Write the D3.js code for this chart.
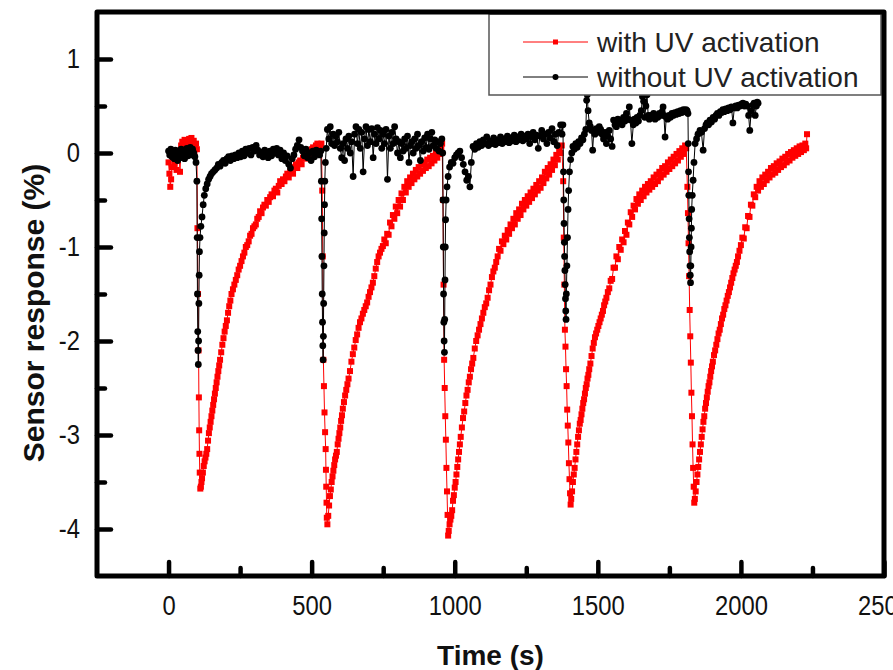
<!DOCTYPE html>
<html lang="en">
  <head>
    <meta charset="utf-8" />
    <title>Sensor response with and without UV activation</title>
    <script src="https://d3js.org/d3.v7.min.js"></script>
    <style>
      body {
        margin: 0;
        background: #fff;
      }
      text {
        font-family: "Liberation Sans", Arial, sans-serif;
      }
      .tick-label {
        font-size: 28px;
        fill: #111;
      }
      .axis-title {
        font-weight: bold;
        fill: #111;
      }
      .legend-label {
        font-size: 28px;
        fill: #222;
      }
    </style>
  </head>
  <body>
    <svg width="893" height="670"></svg>
    <script type="text/javascript">
      // tick values
      const xTicks = [0, 500, 1000, 1500, 2000, 2500];
      const xMinorTicks = [250, 750, 1250, 1750, 2250];
      const yTicks = [-4, -3, -2, -1, 0, 1];
      const yMinorTicks = [-3.5, -2.5, -1.5, -0.5, 0.5];
      const seriesNames = ["with UV activation", "without UV activation"];

      // [time (s), response (%)]
      const withUV = [
        [0,-0.1],[3,-0.22],[6,-0.36],[9,-0.28],[12,-0.15],[16,-0.05],[20,-0.12],[24,-0.02],[28,-0.18],[32,-0.08],[36,0.02],[40,-0.2],[44,0.08],[48,0.12],[52,0.05],[56,0.14],[60,0.1],[64,0.03],[68,0.12],[72,0.15],[76,0.08],[80,0.16],[84,0.1],[88,0.13],[92,0.06],[96,0.1],[99,0.04],
        [101,-0.8],[103,-1.5],[105,-2.1],[106,-2.6],[107,-2.95],[108,-3.2],[109,-3.4],[111,-3.57],[113,-3.55],
        [115,-3.5],[117,-3.46],[120,-3.4],[123,-3.33],[126,-3.28],[129,-3.24],[132,-3.2],[135,-3.15],[138,-3.06],[141,-2.98],[144,-2.92],[147,-2.86],[150,-2.8],[153,-2.74],[156,-2.68],[159,-2.62],[162,-2.56],[165,-2.5],[168,-2.44],[171,-2.38],[174,-2.32],[177,-2.26],[180,-2.2],[184,-2.12],[188,-2.04],[192,-1.97],[196,-1.9],[200,-1.84],[204,-1.78],[208,-1.7],[212,-1.63],[216,-1.57],[220,-1.5],[225,-1.45],[230,-1.4],[235,-1.35],[240,-1.3],[245,-1.24],[250,-1.2],[255,-1.15],[260,-1.1],[265,-1.06],[270,-1.0],[275,-0.98],[280,-0.94],[285,-0.88],[290,-0.86],[295,-0.8],[300,-0.78],[305,-0.76],[310,-0.7],[315,-0.68],[320,-0.62],[325,-0.64],[330,-0.58],[335,-0.55],[340,-0.56],[345,-0.5],[350,-0.52],[355,-0.47],[360,-0.44],[365,-0.46],[370,-0.4],[375,-0.38],[380,-0.42],[385,-0.35],[390,-0.3],[395,-0.33],[400,-0.28],[405,-0.3],[410,-0.25],[415,-0.22],[420,-0.26],[425,-0.2],[430,-0.18],[435,-0.22],[440,-0.15],[445,-0.12],[450,-0.16],[455,-0.1],[460,-0.08],[465,-0.12],[470,-0.05],[475,-0.02],[480,-0.06],[485,0.0],[490,0.02],[495,-0.03],[500,0.04],[505,0.06],[510,0.02],[515,0.08],[520,0.1],[525,0.05],[530,0.08],[534,0.1],
        [537,-0.4],[539,-1.1],[541,-2.2],[543,-2.48],[545,-2.76],[547,-2.97],[549,-3.15],[550,-3.37],[551,-3.55],[552,-3.72],[553,-3.88],[555,-3.95],[558,-3.86],[561,-3.75],
        [564,-3.65],[567,-3.58],[570,-3.5],[573,-3.44],[576,-3.38],[579,-3.32],[582,-3.26],[585,-3.22],[588,-3.18],[591,-3.1],[594,-3.04],[597,-2.98],[600,-2.92],[603,-2.85],[606,-2.79],[609,-2.72],[613,-2.65],[617,-2.58],[621,-2.52],[625,-2.46],[629,-2.4],[634,-2.32],[639,-2.22],[644,-2.14],[649,-2.07],[654,-1.99],[659,-1.93],[664,-1.86],[669,-1.8],[674,-1.76],[679,-1.71],[684,-1.67],[689,-1.63],[694,-1.59],[699,-1.53],[704,-1.48],[709,-1.43],[714,-1.38],[719,-1.31],[724,-1.23],[729,-1.16],[734,-1.1],[739,-1.06],[744,-1.02],
        [749,-0.99],[754,-0.92],[759,-0.96],[764,-0.86],[769,-0.87],[774,-0.74],[779,-0.78],[784,-0.66],[789,-0.7],[794,-0.57],[799,-0.64],[804,-0.5],[809,-0.57],[814,-0.43],[819,-0.5],[824,-0.36],[829,-0.42],[834,-0.3],[839,-0.36],[844,-0.26],[849,-0.32],[854,-0.22],[859,-0.28],[864,-0.18],[869,-0.25],[874,-0.15],[879,-0.22],[884,-0.12],[889,-0.19],[894,-0.1],[899,-0.16],[904,-0.07],[909,-0.14],[914,-0.05],[919,-0.11],[924,-0.03],[929,-0.08],[934,0.0],[939,-0.05],[944,0.03],[949,-0.01],[953,0.06],[956,0.1],
        [959,-0.5],[961,-1.4],[963,-2.2],[965,-2.5],[967,-2.8],[969,-3.05],[971,-3.35],[973,-3.6],[975,-3.85],[977,-4.07],[979,-4.02],[982,-3.95],
        [985,-3.9],[988,-3.86],[991,-3.8],[994,-3.7],[997,-3.64],[1000,-3.56],[1003,-3.5],[1006,-3.42],[1009,-3.34],[1012,-3.26],[1015,-3.18],[1018,-3.1],[1021,-3.02],[1025,-2.92],[1029,-2.82],[1033,-2.75],[1037,-2.66],[1041,-2.58],[1045,-2.52],[1049,-2.44],[1053,-2.38],[1057,-2.3],[1061,-2.24],[1065,-2.18],[1070,-2.08],[1075,-2.0],[1080,-1.94],[1085,-1.88],[1090,-1.82],[1095,-1.76],[1100,-1.7],[1105,-1.64],[1110,-1.6],[1115,-1.54],[1120,-1.46],[1125,-1.4],[1130,-1.32],[1135,-1.26],[1140,-1.22],[1145,-1.16],
        [1150,-1.1],[1155,-1.02],[1160,-1.04],[1165,-0.94],[1170,-0.97],[1175,-0.88],[1180,-0.92],[1185,-0.82],[1190,-0.86],[1195,-0.76],[1200,-0.8],[1205,-0.7],[1210,-0.76],[1215,-0.64],[1220,-0.7],[1225,-0.6],[1230,-0.66],[1235,-0.54],[1240,-0.6],[1245,-0.5],[1250,-0.56],[1255,-0.46],[1260,-0.52],[1265,-0.42],[1270,-0.48],[1275,-0.38],[1280,-0.44],[1285,-0.34],[1290,-0.4],[1295,-0.3],[1300,-0.37],[1305,-0.26],[1310,-0.32],[1315,-0.2],[1320,-0.27],[1325,-0.16],[1330,-0.23],[1335,-0.12],[1340,-0.18],[1345,-0.07],[1350,-0.13],[1355,-0.02],[1360,-0.07],[1365,0.04],[1370,0.0],[1374,0.08],
        [1379,-0.3],[1381,-0.9],[1383,-1.4],[1385,-1.88],[1387,-2.06],[1389,-2.3],[1391,-2.48],[1393,-2.73],[1395,-2.9],[1397,-3.08],[1399,-3.3],[1401,-3.47],[1403,-3.62],[1405,-3.74],[1407,-3.68],
        [1410,-3.6],[1413,-3.5],[1416,-3.42],[1419,-3.35],[1422,-3.26],[1425,-3.18],[1428,-3.1],[1431,-3.02],[1434,-2.95],[1437,-2.88],[1440,-2.84],[1443,-2.78],[1446,-2.72],[1449,-2.66],[1452,-2.62],[1455,-2.56],[1458,-2.5],[1461,-2.46],[1464,-2.4],[1467,-2.36],[1470,-2.3],[1474,-2.24],[1478,-2.16],[1482,-2.08],[1486,-2.02],[1490,-1.96],[1494,-1.92],[1498,-1.88],[1502,-1.84],[1506,-1.8],[1510,-1.76],[1514,-1.72],[1518,-1.68],[1522,-1.62],[1526,-1.58],[1530,-1.54],[1535,-1.48],
        [1540,-1.44],[1545,-1.36],[1550,-1.34],[1555,-1.22],[1560,-1.22],[1565,-1.1],[1570,-1.13],[1575,-1.0],[1580,-1.03],[1585,-0.92],[1590,-0.95],[1595,-0.83],[1600,-0.87],[1605,-0.74],[1610,-0.76],[1615,-0.63],[1620,-0.68],[1625,-0.56],[1630,-0.6],[1635,-0.49],[1640,-0.54],[1645,-0.44],[1650,-0.5],[1655,-0.4],[1660,-0.46],[1665,-0.36],[1670,-0.42],[1675,-0.33],[1680,-0.39],[1685,-0.3],[1690,-0.36],[1695,-0.26],[1700,-0.33],[1705,-0.23],[1710,-0.3],[1715,-0.2],[1720,-0.26],[1725,-0.16],[1730,-0.23],[1735,-0.14],[1740,-0.2],[1745,-0.1],[1750,-0.17],[1755,-0.07],[1760,-0.14],[1765,-0.04],[1770,-0.11],[1775,-0.01],[1780,-0.08],[1785,0.02],[1790,-0.04],[1795,0.05],[1800,-0.01],[1805,0.08],[1809,0.05],
        [1813,-0.36],[1815,-0.64],[1817,-0.96],[1819,-1.31],[1821,-1.67],[1823,-1.95],[1825,-2.23],[1827,-2.55],[1829,-2.8],[1831,-3.1],[1833,-3.35],[1835,-3.55],[1837,-3.72],[1839,-3.68],
        [1842,-3.6],[1845,-3.5],[1848,-3.42],[1851,-3.34],[1854,-3.26],[1857,-3.18],[1860,-3.1],[1863,-3.02],[1866,-2.94],[1869,-2.86],[1872,-2.8],[1875,-2.72],[1878,-2.66],[1881,-2.6],[1884,-2.54],[1887,-2.48],[1890,-2.44],[1893,-2.38],[1896,-2.32],[1899,-2.27],[1902,-2.22],[1906,-2.15],[1910,-2.1],[1914,-2.04],[1918,-1.98],[1922,-1.92],[1926,-1.88],[1930,-1.82],[1934,-1.76],[1938,-1.72],[1942,-1.66],[1946,-1.62],[1950,-1.57],[1954,-1.52],[1958,-1.48],[1962,-1.43],[1966,-1.38],[1970,-1.33],[1974,-1.28],[1978,-1.24],[1982,-1.2],[1986,-1.16],[1990,-1.1],[1995,-1.04],
        [2000,-0.98],[2005,-0.9],[2010,-0.91],[2015,-0.79],[2020,-0.8],[2025,-0.67],[2030,-0.68],[2035,-0.55],[2040,-0.56],[2045,-0.44],[2050,-0.47],[2055,-0.36],[2060,-0.4],[2065,-0.3],[2070,-0.36],[2075,-0.26],[2080,-0.33],[2085,-0.23],[2090,-0.29],[2095,-0.2],[2100,-0.26],[2105,-0.16],[2110,-0.23],[2115,-0.14],[2120,-0.21],[2125,-0.11],[2130,-0.18],[2135,-0.09],[2140,-0.15],[2145,-0.06],[2150,-0.13],[2155,-0.04],[2160,-0.1],[2165,-0.01],[2170,-0.08],[2175,0.01],[2180,-0.05],[2185,0.03],[2190,-0.03],[2195,0.05],[2200,-0.01],[2205,0.07],[2210,0.01],[2215,0.08],[2220,0.03],[2225,0.1],[2228,0.05],[2231,0.2]
      ];

      const withoutUV = [
        [0,0.02],[4,-0.02],[8,0.04],[12,-0.04],[16,0.0],[20,-0.06],[24,0.03],[28,-0.03],[32,-0.08],[36,0.02],[40,-0.05],[44,0.04],[48,-0.02],[52,0.03],[56,-0.06],[60,0.0],[64,0.05],[68,-0.03],[72,0.02],[76,0.06],[80,-0.02],[84,0.04],[88,0.0],[92,-0.04],[96,-0.1],[99,-0.3],
        [100,-0.9],[101,-1.5],[102,-1.9],[103,-2.1],[104,-2.25],[105,-2.0],[106,-1.6],[107,-1.3],[108,-1.05],[110,-0.9],[113,-0.78],[117,-0.68],[121,-0.55],[125,-0.45],[130,-0.38],[135,-0.33],[140,-0.28],[145,-0.25],[150,-0.22],[156,-0.2],[162,-0.18],[168,-0.16],[174,-0.12],[180,-0.14],[186,-0.1],[192,-0.08],[198,-0.11],[204,-0.06],[210,-0.04],[216,-0.08],[222,-0.03],[228,-0.06],[234,-0.02],[240,-0.05],[246,0.0],[252,-0.04],[258,0.02],[264,-0.03],[270,0.04],[276,0.0],[282,0.05],[288,-0.02],[294,0.06],[300,0.02],[306,0.08],[312,0.03],[318,-0.02],[324,0.01],[330,-0.04],[336,0.03],[342,0.0],[348,-0.05],[354,0.02],[360,-0.03],[366,0.04],[372,0.0],[378,0.05],[384,-0.02],[390,0.03],[396,-0.06],[402,0.0],[408,-0.08],[414,-0.03],[420,-0.12],[426,-0.16],[432,-0.06],[438,-0.02],[444,0.04],[450,0.08],[456,0.14],[462,0.06],[468,0.02],[474,-0.03],[480,0.04],[486,-0.05],[492,0.0],[498,-0.08],[504,0.02],[510,-0.04],[516,0.03],[522,0.0],[528,-0.02],[532,0.02],
        [534,-0.3],[535,-0.7],[536,-1.1],[537,-1.5],[538,-1.8],[539,-2.05],[540,-2.2],[541,-1.95],[542,-1.6],[543,-1.2],[544,-0.85],[545,-0.55],[546,-0.3],[548,-0.1],[551,0.05],
        [555,0.25],[560,0.15],[565,0.28],[570,0.1],[575,0.2],[580,0.08],[585,0.18],[590,0.12],[595,0.22],[600,0.05],[605,-0.05],[610,0.1],[615,-0.08],[620,0.15],[625,0.05],[630,0.18],[635,0.0],[640,0.12],[645,-0.25],[650,0.2],[655,0.28],[660,0.1],[665,0.25],[670,0.05],[675,0.22],[680,-0.2],[685,0.15],[690,0.28],[695,0.08],[700,0.25],[705,0.12],[710,0.26],[715,-0.05],[720,0.2],[725,0.1],[730,0.27],[735,0.15],[740,0.24],[745,0.05],[750,0.2],[755,0.1],[760,0.25],[765,-0.28],[770,0.18],[775,0.05],[780,0.22],[785,0.1],[790,0.28],[795,0.15],[800,0.0],[805,0.12],[810,-0.05],[815,0.1],[820,0.02],[825,0.15],[830,0.05],[835,0.18],[840,-0.1],[845,0.08],[850,0.12],[855,0.0],[860,0.15],[865,0.05],[870,0.2],[875,0.08],[880,-0.08],[885,0.12],[890,0.02],[895,0.16],[900,0.06],[905,0.2],[910,0.04],[915,0.15],[920,0.22],[925,0.08],[930,0.14],[935,0.05],[940,0.12],[945,0.02],[950,0.1],[955,0.15],
        [958,0.0],[959,-0.5],[960,-1.0],[961,-1.5],[962,-1.8],[963,-2.0],[964,-2.12],[965,-1.77],[966,-1.35],[967,-1.0],[968,-0.71],[970,-0.5],[973,-0.36],[977,-0.25],[982,-0.15],[988,-0.1],[994,-0.11],[1000,-0.05],[1006,-0.02],[1012,0.0],[1018,0.02],[1024,-0.05],[1030,-0.12],[1036,-0.2],[1042,-0.29],[1048,-0.25],[1053,-0.36],[1058,-0.1],[1064,0.07],[1070,0.04],[1076,0.1],[1082,0.06],[1088,0.12],[1094,0.08],[1100,0.14],[1106,0.1],[1112,0.17],[1118,0.08],[1124,0.13],[1130,0.1],[1136,0.16],[1142,0.09],[1148,0.14],[1154,0.11],[1160,0.17],[1166,0.1],[1172,0.15],[1178,0.12],[1184,0.18],[1190,0.11],[1196,0.16],[1202,0.13],[1208,0.19],[1214,0.12],[1220,0.17],[1226,0.14],[1232,0.2],[1238,0.13],[1244,0.18],[1250,0.15],[1256,0.2],[1262,0.1],[1268,0.17],[1274,0.22],[1280,0.14],[1286,0.19],[1292,0.05],[1298,0.18],[1304,0.24],[1310,0.15],[1316,0.2],[1322,0.1],[1328,0.22],[1334,0.16],[1340,0.26],[1346,0.12],[1352,0.2],[1358,0.08],[1364,0.22],[1370,0.3],[1375,0.2],
        [1378,0.3],[1380,-0.2],[1381,-0.5],[1382,-0.75],[1383,-0.95],[1384,-1.1],[1385,-1.25],[1386,-1.4],[1387,-1.55],[1388,-1.68],[1389,-1.77],[1390,-1.5],[1392,-1.2],[1394,-0.9],[1396,-0.6],[1398,-0.4],[1401,-0.2],[1405,-0.07],[1409,0.0],[1413,0.07],[1418,0.04],[1423,0.1],[1428,0.06],[1433,0.12],[1438,0.1],[1443,0.16],[1448,0.14],[1453,0.2],[1458,0.25],[1461,0.56],[1463,0.62],[1466,0.45],[1470,0.32],[1474,0.28],[1478,0.24],[1482,0.03],[1486,0.24],[1490,0.2],[1495,0.26],[1500,0.22],[1505,0.28],[1510,0.25],[1515,0.2],[1520,0.15],[1525,0.22],[1530,0.1],[1535,0.18],[1540,0.24],[1545,0.15],[1550,0.07],[1555,0.35],[1560,0.3],[1565,0.28],[1570,0.36],[1575,0.32],[1580,0.35],[1585,0.3],[1590,0.38],[1595,0.34],[1600,0.42],[1605,0.36],[1610,0.49],[1614,0.35],[1619,0.1],[1624,0.3],[1628,0.36],[1633,0.32],[1637,0.38],[1642,0.34],[1647,0.4],[1652,0.45],[1656,0.6],[1660,0.55],[1664,0.38],[1668,0.5],[1672,0.62],[1676,0.4],[1680,0.36],[1685,0.4],[1690,0.38],[1695,0.42],[1700,0.36],[1705,0.4],[1710,0.38],[1715,0.42],[1720,0.4],[1725,0.44],[1728,0.49],[1731,0.4],[1735,0.17],[1739,0.38],[1744,0.36],[1749,0.4],[1754,0.38],[1759,0.42],[1764,0.4],[1769,0.43],[1774,0.41],[1779,0.44],[1784,0.42],[1789,0.45],[1794,0.43],[1799,0.46],[1804,0.44],[1808,0.46],[1812,0.45],
        [1815,0.42],[1816,0.1],[1817,-0.2],[1818,-0.45],[1819,-0.7],[1820,-0.9],[1821,-1.05],[1822,-1.2],[1823,-1.3],[1824,-1.38],[1825,-1.2],[1826,-1.0],[1827,-0.8],[1828,-0.6],[1830,-0.45],[1833,-0.29],[1836,-0.1],[1840,0.1],[1845,0.15],[1850,0.2],[1857,0.24],[1862,0.22],[1868,0.03],[1873,0.26],[1878,0.3],[1882,0.32],[1887,0.3],[1892,0.35],[1897,0.33],[1903,0.38],[1908,0.36],[1913,0.4],[1918,0.42],[1923,0.4],[1928,0.44],[1933,0.43],[1937,0.46],[1942,0.44],[1947,0.47],[1952,0.45],[1957,0.48],[1962,0.46],[1967,0.49],[1972,0.32],[1977,0.48],[1982,0.5],[1987,0.48],[1992,0.51],[1997,0.5],[2002,0.52],[2007,0.53],[2012,0.5],[2017,0.52],[2022,0.5],[2027,0.4],[2031,0.24],[2036,0.45],[2042,0.51],[2046,0.53],[2050,0.4],[2054,0.5],[2057,0.54],[2060,0.53]
      ];

      const width = 893;
      const height = 670;
      const margin = { top: 12, right: 9, bottom: 94, left: 97 };
      const squeeze = 0.85; // tick labels are a little condensed

      const x = d3
        .scaleLinear()
        .domain([-250, 2500])
        .range([margin.left, width - margin.right]);
      const y = d3
        .scaleLinear()
        .domain([-4.5, 1.5])
        .range([height - margin.bottom, margin.top]);

      const svg = d3.select("svg");

      // ticks point inward, labels outside
      const xAxis = svg
        .append("g")
        .attr("transform", `translate(0,${height - margin.bottom})`)
        .call(
          d3
            .axisBottom(x)
            .tickValues(xTicks)
            .tickSizeInner(-14)
            .tickSizeOuter(0)
            .tickPadding(19)
            .tickFormat((d) => String(d))
        );
      const xMinor = svg
        .append("g")
        .attr("transform", `translate(0,${height - margin.bottom})`)
        .call(
          d3
            .axisBottom(x)
            .tickValues(xMinorTicks)
            .tickSizeInner(-8)
            .tickSizeOuter(0)
            .tickFormat("")
        );
      const yAxis = svg
        .append("g")
        .attr("transform", `translate(${margin.left},0)`)
        .call(
          d3
            .axisLeft(y)
            .tickValues(yTicks)
            .tickSizeInner(-14)
            .tickSizeOuter(0)
            .tickPadding(17)
            .tickFormat((d) => String(d))
        );
      const yMinor = svg
        .append("g")
        .attr("transform", `translate(${margin.left},0)`)
        .call(
          d3
            .axisLeft(y)
            .tickValues(yMinorTicks)
            .tickSizeInner(-8)
            .tickSizeOuter(0)
            .tickFormat("")
        );

      [xAxis, xMinor, yAxis, yMinor].forEach((g) => {
        g.attr("font-size", null).attr("font-family", null);
        g.select(".domain").remove();
        g.selectAll(".tick line")
          .attr("stroke", "#000")
          .attr("stroke-width", 4.5)
          .attr("stroke-linecap", "round");
        g.selectAll(".tick text")
          .attr("class", "tick-label")
          .attr("transform", `scale(${squeeze},1)`);
      });
      yAxis.selectAll(".tick text").attr("x", -17 / squeeze);

      // series
      const line = d3
        .line()
        .x((d) => x(d[0]))
        .y((d) => y(d[1]));

      svg
        .append("path")
        .datum(withUV)
        .attr("fill", "none")
        .attr("stroke", "#ff0000")
        .attr("stroke-width", 1)
        .attr("d", line);
      svg
        .append("g")
        .selectAll("rect")
        .data(withUV)
        .join("rect")
        .attr("x", (d) => x(d[0]) - 3)
        .attr("y", (d) => y(d[1]) - 3)
        .attr("width", 6)
        .attr("height", 6)
        .attr("fill", "#ff0000");

      svg
        .append("path")
        .datum(withoutUV)
        .attr("fill", "none")
        .attr("stroke", "#000")
        .attr("stroke-width", 1)
        .attr("d", line);
      svg
        .append("g")
        .selectAll("circle")
        .data(withoutUV)
        .join("circle")
        .attr("cx", (d) => x(d[0]))
        .attr("cy", (d) => y(d[1]))
        .attr("r", 3.4)
        .attr("fill", "#000");

      // legend
      const legend = svg.append("g");
      legend
        .append("rect")
        .attr("x", 489)
        .attr("y", 14)
        .attr("width", 392)
        .attr("height", 81)
        .attr("fill", "#fff")
        .attr("stroke", "#555")
        .attr("stroke-width", 1.5);

      const legendRows = legend
        .selectAll(".row")
        .data(seriesNames)
        .join("g")
        .attr("class", "row")
        .attr("transform", (d, i) => `translate(523,${42 + i * 35})`);
      legendRows
        .append("line")
        .attr("x1", 0)
        .attr("x2", 65)
        .attr("stroke", (d, i) => (i === 0 ? "#ff0000" : "#000"))
        .attr("stroke-width", 1);
      legendRows
        .filter((d, i) => i === 0)
        .append("rect")
        .attr("x", 30)
        .attr("y", -2.5)
        .attr("width", 5)
        .attr("height", 5)
        .attr("fill", "#ff0000");
      legendRows
        .filter((d, i) => i === 1)
        .append("circle")
        .attr("cx", 32.5)
        .attr("r", 3)
        .attr("fill", "#000");
      legendRows
        .append("text")
        .attr("class", "legend-label")
        .attr("x", 74)
        .attr("dy", "0.35em")
        .text((d) => d);

      // frame
      svg
        .append("rect")
        .attr("x", margin.left)
        .attr("y", margin.top)
        .attr("width", width - margin.left - margin.right)
        .attr("height", height - margin.top - margin.bottom)
        .attr("fill", "none")
        .attr("stroke", "#000")
        .attr("stroke-width", 5)
        .attr("stroke-linejoin", "round");

      // axis titles
      svg
        .append("text")
        .attr("class", "axis-title")
        .attr("x", (margin.left + width - margin.right) / 2)
        .attr("y", 665)
        .attr("font-size", 28)
        .attr("text-anchor", "middle")
        .text("Time (s)");
      svg
        .append("text")
        .attr("class", "axis-title")
        .attr("transform", "translate(44,313) rotate(-90)")
        .attr("font-size", 30)
        .attr("text-anchor", "middle")
        .text("Sensor response (%)");
    </script>
  </body>
</html>
